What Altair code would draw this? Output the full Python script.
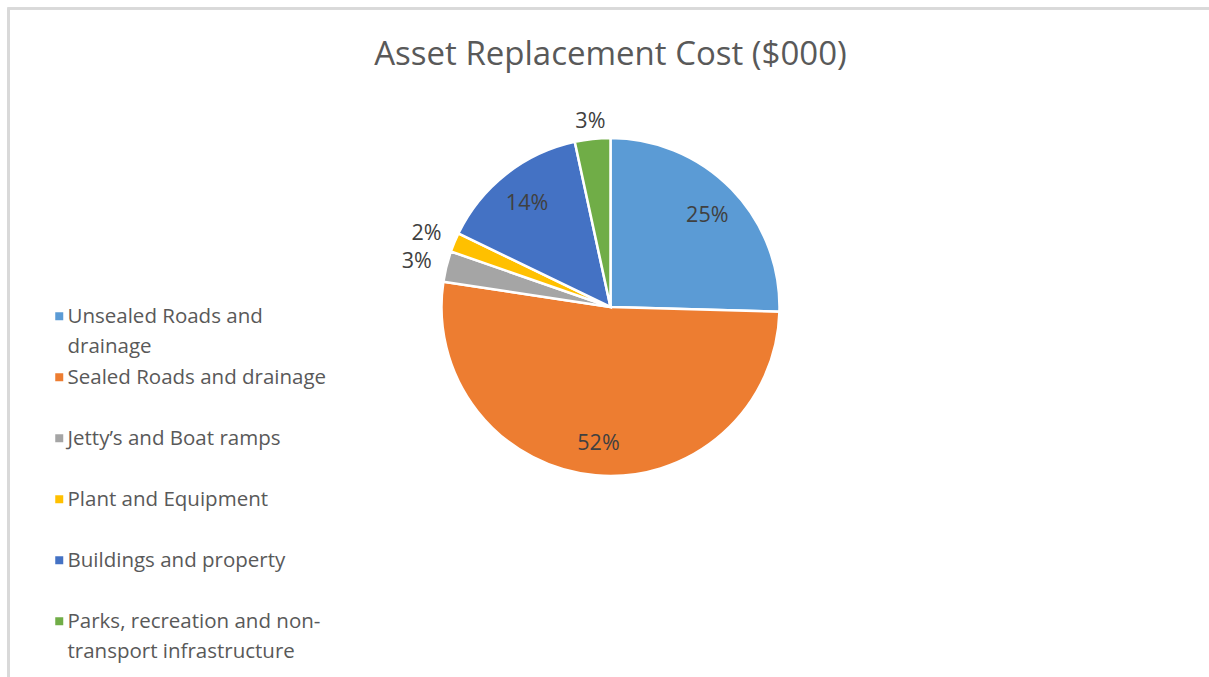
import altair as alt
import pandas as pd

categories = [
    "Unsealed Roads and drainage",
    "Sealed Roads and drainage",
    "Jetty’s and Boat ramps",
    "Plant and Equipment",
    "Buildings and property",
    "Parks, recreation and non-transport infrastructure",
]
shares = [25.44, 51.95, 2.94, 1.84, 14.44, 3.39]
colors = ["#5B9BD5", "#ED7D31", "#A5A5A5", "#FFC000", "#4472C4", "#70AD47"]
legend_lines = [
    ["Unsealed Roads and", "drainage"],
    ["Sealed Roads and drainage"],
    ["Jetty’s and Boat ramps"],
    ["Plant and Equipment"],
    ["Buildings and property"],
    ["Parks, recreation and non-", "transport infrastructure"],
]
title_text = "Asset Replacement Cost ($000)"

df = pd.DataFrame({"category": categories, "share": shares, "idx": list(range(len(categories)))})

# legend label expression with line breaks
expr = "datum.label"
for cat, lines in reversed(list(zip(categories, legend_lines))):
    arr = "[" + ",".join("'" + l + "'" for l in lines) + "]"
    expr = f"datum.label == '{cat}' ? {arr} : ({expr})"

R = 169

arcs = alt.Chart().mark_arc(outerRadius=R, stroke="white", strokeWidth=2.5).encode(
    theta=alt.Theta("share:Q", stack=True),
    order=alt.Order("idx:Q"),
    color=alt.Color(
        "category:N",
        sort=categories,
        scale=alt.Scale(domain=categories, range=colors),
        legend=alt.Legend(
            orient="none",
            legendX=35,
            legendY=297,
            title=None,
            padding=0,
            labelFont="Open Sans",
            labelFontSize=20.5,
            labelColor="#595959",
            labelLimit=600,
            labelOffset=0,
            labelBaseline="top",
            labelExpr=expr,
            symbolType="M-0.5,1.25H1.5V3.25H-0.5Z",
            symbolSize=64,
            symbolStrokeWidth=0,
            rowPadding=0,
            gridAlign="all",
        ),
    ),
)

labels = alt.Chart().mark_text(font="Open Sans", fontSize=21.5, color="#404040", dy=3).encode(
    theta=alt.Theta("mid:Q", stack=None, scale=None),
    radius=alt.Radius("r:Q", scale=None),
    text=alt.Text("label:N"),
)

frame_left = alt.Chart().mark_rule(color="#D9D9D9", strokeWidth=2.2).encode(
    x=alt.value(-3.5), y=alt.value(8.5), y2=alt.value(720)
)
frame_top = alt.Chart().mark_rule(color="#D9D9D9", strokeWidth=2.2).encode(
    x=alt.value(-4.5), x2=alt.value(1210), y=alt.value(8.5)
)

chart = (
    alt.layer(frame_left, frame_top, arcs, labels, data=df)
    .transform_joinaggregate(total="sum(share)")
    .transform_window(cum="sum(share)", sort=[alt.SortField("idx")], frame=[None, 0])
    .transform_calculate(
        pct="datum.share / datum.total",
        label="format(datum.share / datum.total, '.0%')",
        mid="(datum.cum - datum.share / 2) / datum.total * 2 * PI",
    )
    .transform_calculate(
        r="datum.pct < 0.05 ? 188 + 12 * abs(sin(datum.mid)) : 135"
    )
    .properties(
        width=1197,
        height=614,
        autosize=alt.AutoSizeParams(type="none"),
        padding={"left": 12, "top": 0, "right": 0, "bottom": 63},
        title=alt.TitleParams(
            text=title_text,
            font="Open Sans",
            fontSize=33,
            fontWeight="normal",
            color="#595959",
            anchor="middle",
            offset=-72,
        ),
        background="white",
    )
    .configure(style={"guide-label": {"lineHeight": 30}})
    .configure_view(stroke=None)
)

chart.save("out.html", embed_options={"renderer": "svg", "actions": False})
